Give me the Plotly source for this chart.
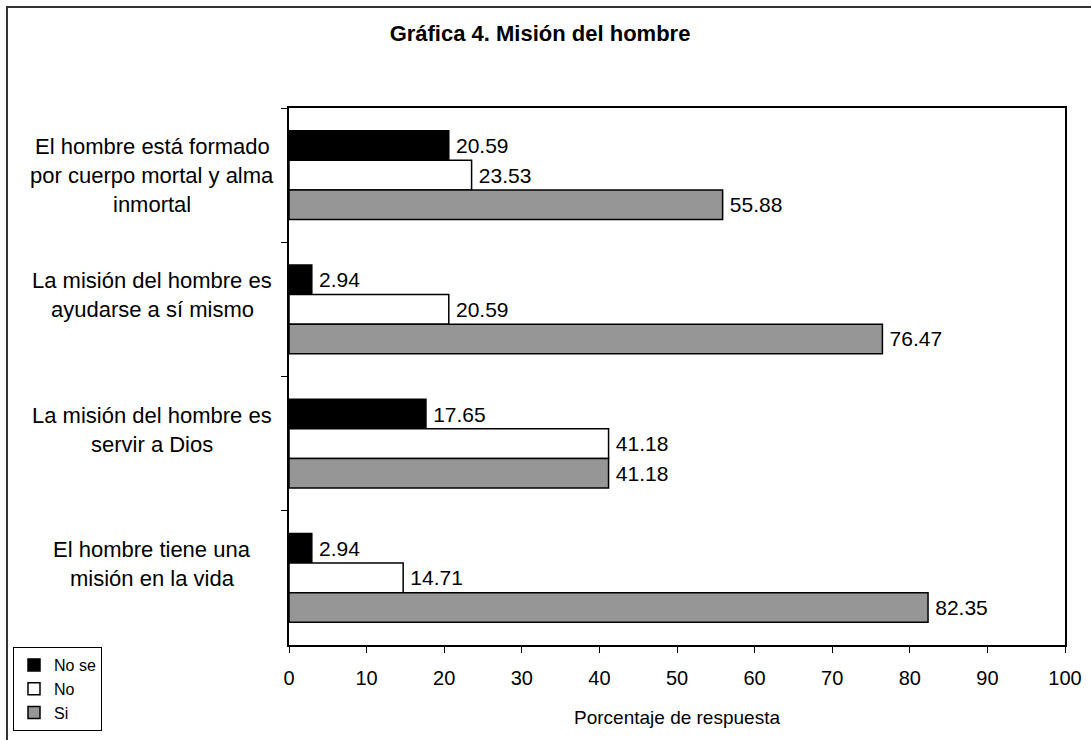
import plotly.graph_objects as go

categories = [
    "El hombre está formado por cuerpo mortal y alma inmortal",
    "La misión del hombre es ayudarse a sí mismo",
    "La misión del hombre es servir a Dios",
    "El hombre tiene una misión en la vida",
]
category_lines = [
    ["El hombre está formado", "por cuerpo mortal y alma", "inmortal"],
    ["La misión del hombre es", "ayudarse a sí mismo"],
    ["La misión del hombre es", "servir a Dios"],
    ["El hombre tiene una", "misión en la vida"],
]
no_se = [20.59, 2.94, 17.65, 2.94]
no = [23.53, 20.59, 41.18, 14.71]
si = [55.88, 76.47, 41.18, 82.35]
series_names = ["No se", "No", "Si"]
series_values = [no_se, no, si]
series_colors = ["#000000", "#ffffff", "#969696"]
x_ticks = [0, 10, 20, 30, 40, 50, 60, 70, 80, 90, 100]

FONT = "Liberation Sans, Arial, sans-serif"

fig = go.Figure()
for name, vals, col in zip(series_names, series_values, series_colors):
    fig.add_trace(go.Bar(
        y=categories, x=vals, name=name, orientation="h",
        marker=dict(color=col, line=dict(color="#000000", width=1.5)),
        text=["\u2009" + f"{v:.2f}" for v in vals], textposition="outside",
        textfont=dict(family=FONT, size=21, color="#000000"),
        constraintext="none", cliponaxis=False,
    ))

W, H = 1091, 740
ml, mr, mt, mb = 289, 26, 108, 95
pw, ph = W - ml - mr, H - mt - mb

annotations = []
for cat, lines in zip(categories, category_lines):
    for i, line in enumerate(lines):
        annotations.append(dict(
            x=(152 - ml) / pw, xref="paper", y=cat, yref="y",
            text=line, showarrow=False, xanchor="center", yanchor="middle",
            yshift=28.5 - i * 29,
            font=dict(family=FONT, size=22, color="#000000"),
        ))

fig.update_layout(
    width=W, height=H,
    margin=dict(l=ml, r=mr, t=mt, b=mb, pad=0, autoexpand=False),
    paper_bgcolor="#ffffff", plot_bgcolor="#ffffff",
    barmode="group", bargap=0.34, bargroupgap=0,
    title=dict(text="<b>Gráfica 4. Misión del hombre</b>", x=540 / W, xanchor="center",
               y=1 - 33 / H, yanchor="middle",
               font=dict(family=FONT, size=22, color="#000000")),
    font=dict(family=FONT, size=20, color="#000000"),
    showlegend=True,
    legend=dict(x=(13 - ml) / pw, y=(645 - 647) / ph, xanchor="left", yanchor="top",
                bordercolor="#000000", borderwidth=1, bgcolor="#ffffff",
                traceorder="normal", tracegroupgap=0, itemwidth=30,
                font=dict(family=FONT, size=16, color="#000000")),
    xaxis=dict(range=[0, 100], tickvals=x_ticks, ticks="outside", ticklen=6,
               tickcolor="#000000", tickwidth=1, showgrid=False, zeroline=False,
               showline=True, linecolor="#000000", linewidth=2, mirror=True,
               tickfont=dict(family=FONT, size=20), fixedrange=True, automargin=False,
               ticklabelstandoff=8,
               title=dict(text="Porcentaje de respuesta", standoff=23,
                          font=dict(family=FONT, size=19))),
    yaxis=dict(autorange="reversed", showticklabels=False, ticks="outside", ticklen=6,
               tickson="boundaries", tickcolor="#000000", tickwidth=1,
               showgrid=False, zeroline=False, automargin=False,
               showline=True, linecolor="#000000", linewidth=2, mirror=True),
    annotations=annotations,
    shapes=[dict(type="rect", xref="paper", yref="paper",
                 x0=(7 - ml) / pw, x1=(W + 20 - ml) / pw,
                 y0=1 - (H + 20 - mt) / ph, y1=1 + (mt - 7) / ph,
                 line=dict(color="#333333", width=2), fillcolor="rgba(0,0,0,0)",
                 layer="below")],
)

fig.write_html("out.html")
